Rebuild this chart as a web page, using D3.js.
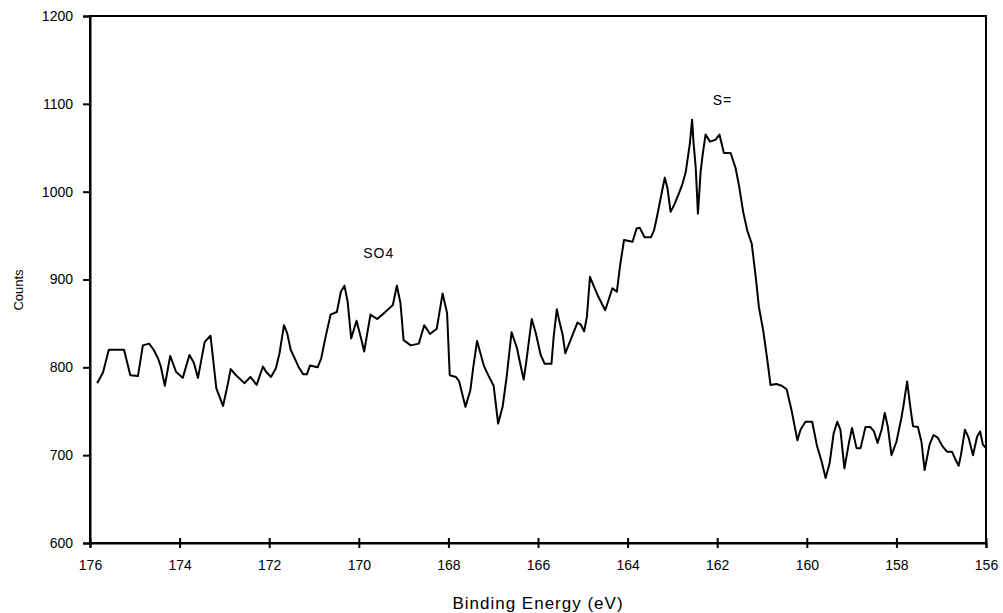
<!DOCTYPE html>
<html>
<head>
<meta charset="utf-8">
<script src="https://cdn.jsdelivr.net/npm/d3@7"></script>
<style>
  html, body { margin: 0; padding: 0; background: #fff; }
  svg { display: block; }
  text { font-family: "Liberation Sans", Arial, sans-serif; fill: #000; }
</style>
</head>
<body>
<svg id="chart" width="1003" height="613"></svg>
<script>
// XPS S 2p region: binding energy (eV) vs counts
const energy = [
  175.84, 175.71, 175.58, 175.45, 175.24, 175.10, 174.93, 174.82, 174.68, 174.58,
  174.48, 174.42, 174.33, 174.21, 174.08, 173.93, 173.78, 173.68, 173.59, 173.44,
  173.31, 173.18, 173.03, 172.92, 172.86, 172.74, 172.55, 172.42, 172.28, 172.14,
  172.07, 171.96, 171.85, 171.77, 171.67, 171.60, 171.52, 171.42, 171.34, 171.24,
  171.16, 171.09, 170.92, 170.84, 170.74, 170.63, 170.49, 170.40, 170.32, 170.25,
  170.17, 170.05, 169.95, 169.88, 169.74, 169.59, 169.43, 169.24, 169.15, 169.07,
  169.00, 168.84, 168.66, 168.54, 168.41, 168.26, 168.13, 168.03, 167.97, 167.83,
  167.76, 167.62, 167.51, 167.44, 167.36, 167.21, 167.10, 166.99, 166.89, 166.79,
  166.70, 166.59, 166.47, 166.40, 166.32, 166.27, 166.14, 166.05, 165.94, 165.85,
  165.70, 165.65, 165.58, 165.53, 165.45, 165.39, 165.29, 165.12, 165.05, 164.97,
  164.91, 164.84, 164.75, 164.65, 164.50, 164.41, 164.34, 164.24, 164.17, 164.08,
  163.89, 163.80, 163.73, 163.62, 163.48, 163.41, 163.35, 163.26, 163.17, 163.11,
  163.04, 162.96, 162.87, 162.78, 162.70, 162.61, 162.56, 162.53, 162.48, 162.43,
  162.37, 162.32, 162.26, 162.16, 162.04, 161.95, 161.85, 161.70, 161.59, 161.51,
  161.42, 161.33, 161.23, 161.14, 161.07, 160.97, 160.88, 160.81, 160.68, 160.56,
  160.45, 160.34, 160.21, 160.14, 160.03, 159.88, 159.77, 159.67, 159.58, 159.49,
  159.40, 159.32, 159.25, 159.16, 159.06, 158.99, 158.89, 158.80, 158.69, 158.58,
  158.50, 158.42, 158.33, 158.26, 158.19, 158.11, 158.00, 157.89, 157.84, 157.76,
  157.70, 157.63, 157.52, 157.44, 157.37, 157.26, 157.17, 157.08, 156.97, 156.87,
  156.76, 156.69, 156.61, 156.56, 156.47, 156.39, 156.29, 156.20, 156.13, 156.07,
  156.00
];
const counts = [
  782, 794, 820, 820, 820, 791, 790, 825, 827, 820,
  810, 801, 779, 813, 795, 788, 814, 805, 788, 829,
  836, 776, 756, 782, 798, 791, 782, 789, 780, 801,
  795, 789, 799, 816, 848, 839, 820, 809, 800, 792,
  792, 802, 800, 810, 835, 860, 863, 886, 893, 875,
  833, 853, 833, 818, 860, 855, 862, 871, 893, 873,
  831, 825, 827, 848, 838, 844, 884, 862, 791, 789,
  784, 755, 774, 802, 830, 802, 790, 779, 736, 755,
  789, 840, 822, 805, 786, 803, 855, 839, 814, 804,
  804, 835, 866, 854, 837, 816, 829, 851, 849, 841,
  857, 903, 892, 880, 865, 879, 890, 886, 915, 945,
  943, 958, 959, 948, 948, 956, 970, 993, 1016, 1004,
  977, 985, 996, 1008, 1023, 1055, 1082, 1057, 1028, 975,
  1023, 1044, 1065, 1057, 1059, 1065, 1044, 1044, 1027, 1006,
  977, 956, 941, 903, 869, 841, 808, 780, 781, 779,
  775, 751, 717, 729, 738, 738, 710, 693, 674, 691,
  725, 738, 729, 685, 714, 731, 708, 708, 732, 732,
  727, 714, 729, 748, 732, 700, 715, 742, 757, 784,
  759, 733, 732, 715, 683, 712, 723, 720, 710, 704,
  704, 696, 688, 700, 729, 720, 700, 721, 727, 712,
  708
];
const xTicks = [176, 174, 172, 170, 168, 166, 164, 162, 160, 158, 156];
const yTicks = [600, 700, 800, 900, 1000, 1100, 1200];
const peakLabels = ["SO4", "S="];
const peakEnergy = [169.9, 162.1];
const peakCounts = [924, 1099];

const svg = d3.select("#chart");
const margin = { top: 16, right: 17, bottom: 70, left: 90 };
const W = 1003, H = 613;
const iw = W - margin.left - margin.right;
const ih = H - margin.top - margin.bottom;

const x = d3.scaleLinear().domain([176, 156]).range([margin.left, margin.left + iw]);
const y = d3.scaleLinear().domain([600, 1200]).range([margin.top + ih, margin.top]);

// plot frame
svg.append("rect")
  .attr("x", margin.left).attr("y", margin.top)
  .attr("width", iw).attr("height", ih)
  .attr("fill", "none").attr("stroke", "#000").attr("stroke-width", 2);

// y axis
const yAxis = svg.append("g")
  .attr("transform", `translate(${margin.left},0)`)
  .call(d3.axisLeft(y).tickValues(yTicks).tickSize(7).tickPadding(10).tickFormat(d3.format("d")));
yAxis.select(".domain").attr("stroke-width", 2);
yAxis.selectAll(".tick line").attr("stroke-width", 2);
yAxis.selectAll("text").attr("font-size", 14).style("font-family", "'Liberation Sans', Arial, sans-serif");

// x axis, ticks crossing the line
const xAxis = svg.append("g")
  .attr("transform", `translate(0,${margin.top + ih})`)
  .call(d3.axisBottom(x).tickValues(xTicks).tickSize(5).tickPadding(12).tickFormat(d3.format("d")));
xAxis.select(".domain").attr("stroke-width", 2);
xAxis.selectAll(".tick line").attr("y1", -5).attr("stroke-width", 2);
xAxis.selectAll("text").attr("font-size", 14).style("font-family", "'Liberation Sans', Arial, sans-serif");

// axis titles
svg.append("text")
  .attr("x", margin.left + iw / 2).attr("y", 609)
  .attr("text-anchor", "middle").attr("font-size", 17)
  .attr("letter-spacing", 1)
  .text("Binding Energy (eV)");
svg.append("text")
  .attr("transform", `translate(23,290) rotate(-90)`)
  .attr("text-anchor", "middle").attr("font-size", 13)
  .text("Counts");

// spectrum
const pts = energy.map((e, i) => [e, counts[i]]);
svg.append("path")
  .datum(pts)
  .attr("fill", "none")
  .attr("stroke", "#000")
  .attr("stroke-width", 2)
  .attr("stroke-linejoin", "round")
  .attr("d", d3.line().x(d => x(d[0])).y(d => y(d[1])));

// peak annotations
svg.selectAll(".peak")
  .data(peakLabels)
  .join("text")
  .attr("class", "peak")
  .attr("x", (d, i) => x(peakEnergy[i]))
  .attr("y", (d, i) => y(peakCounts[i]))
  .attr("text-anchor", "start")
  .attr("font-size", 14)
  .attr("letter-spacing", 1)
  .text(d => d);
</script>
</body>
</html>
